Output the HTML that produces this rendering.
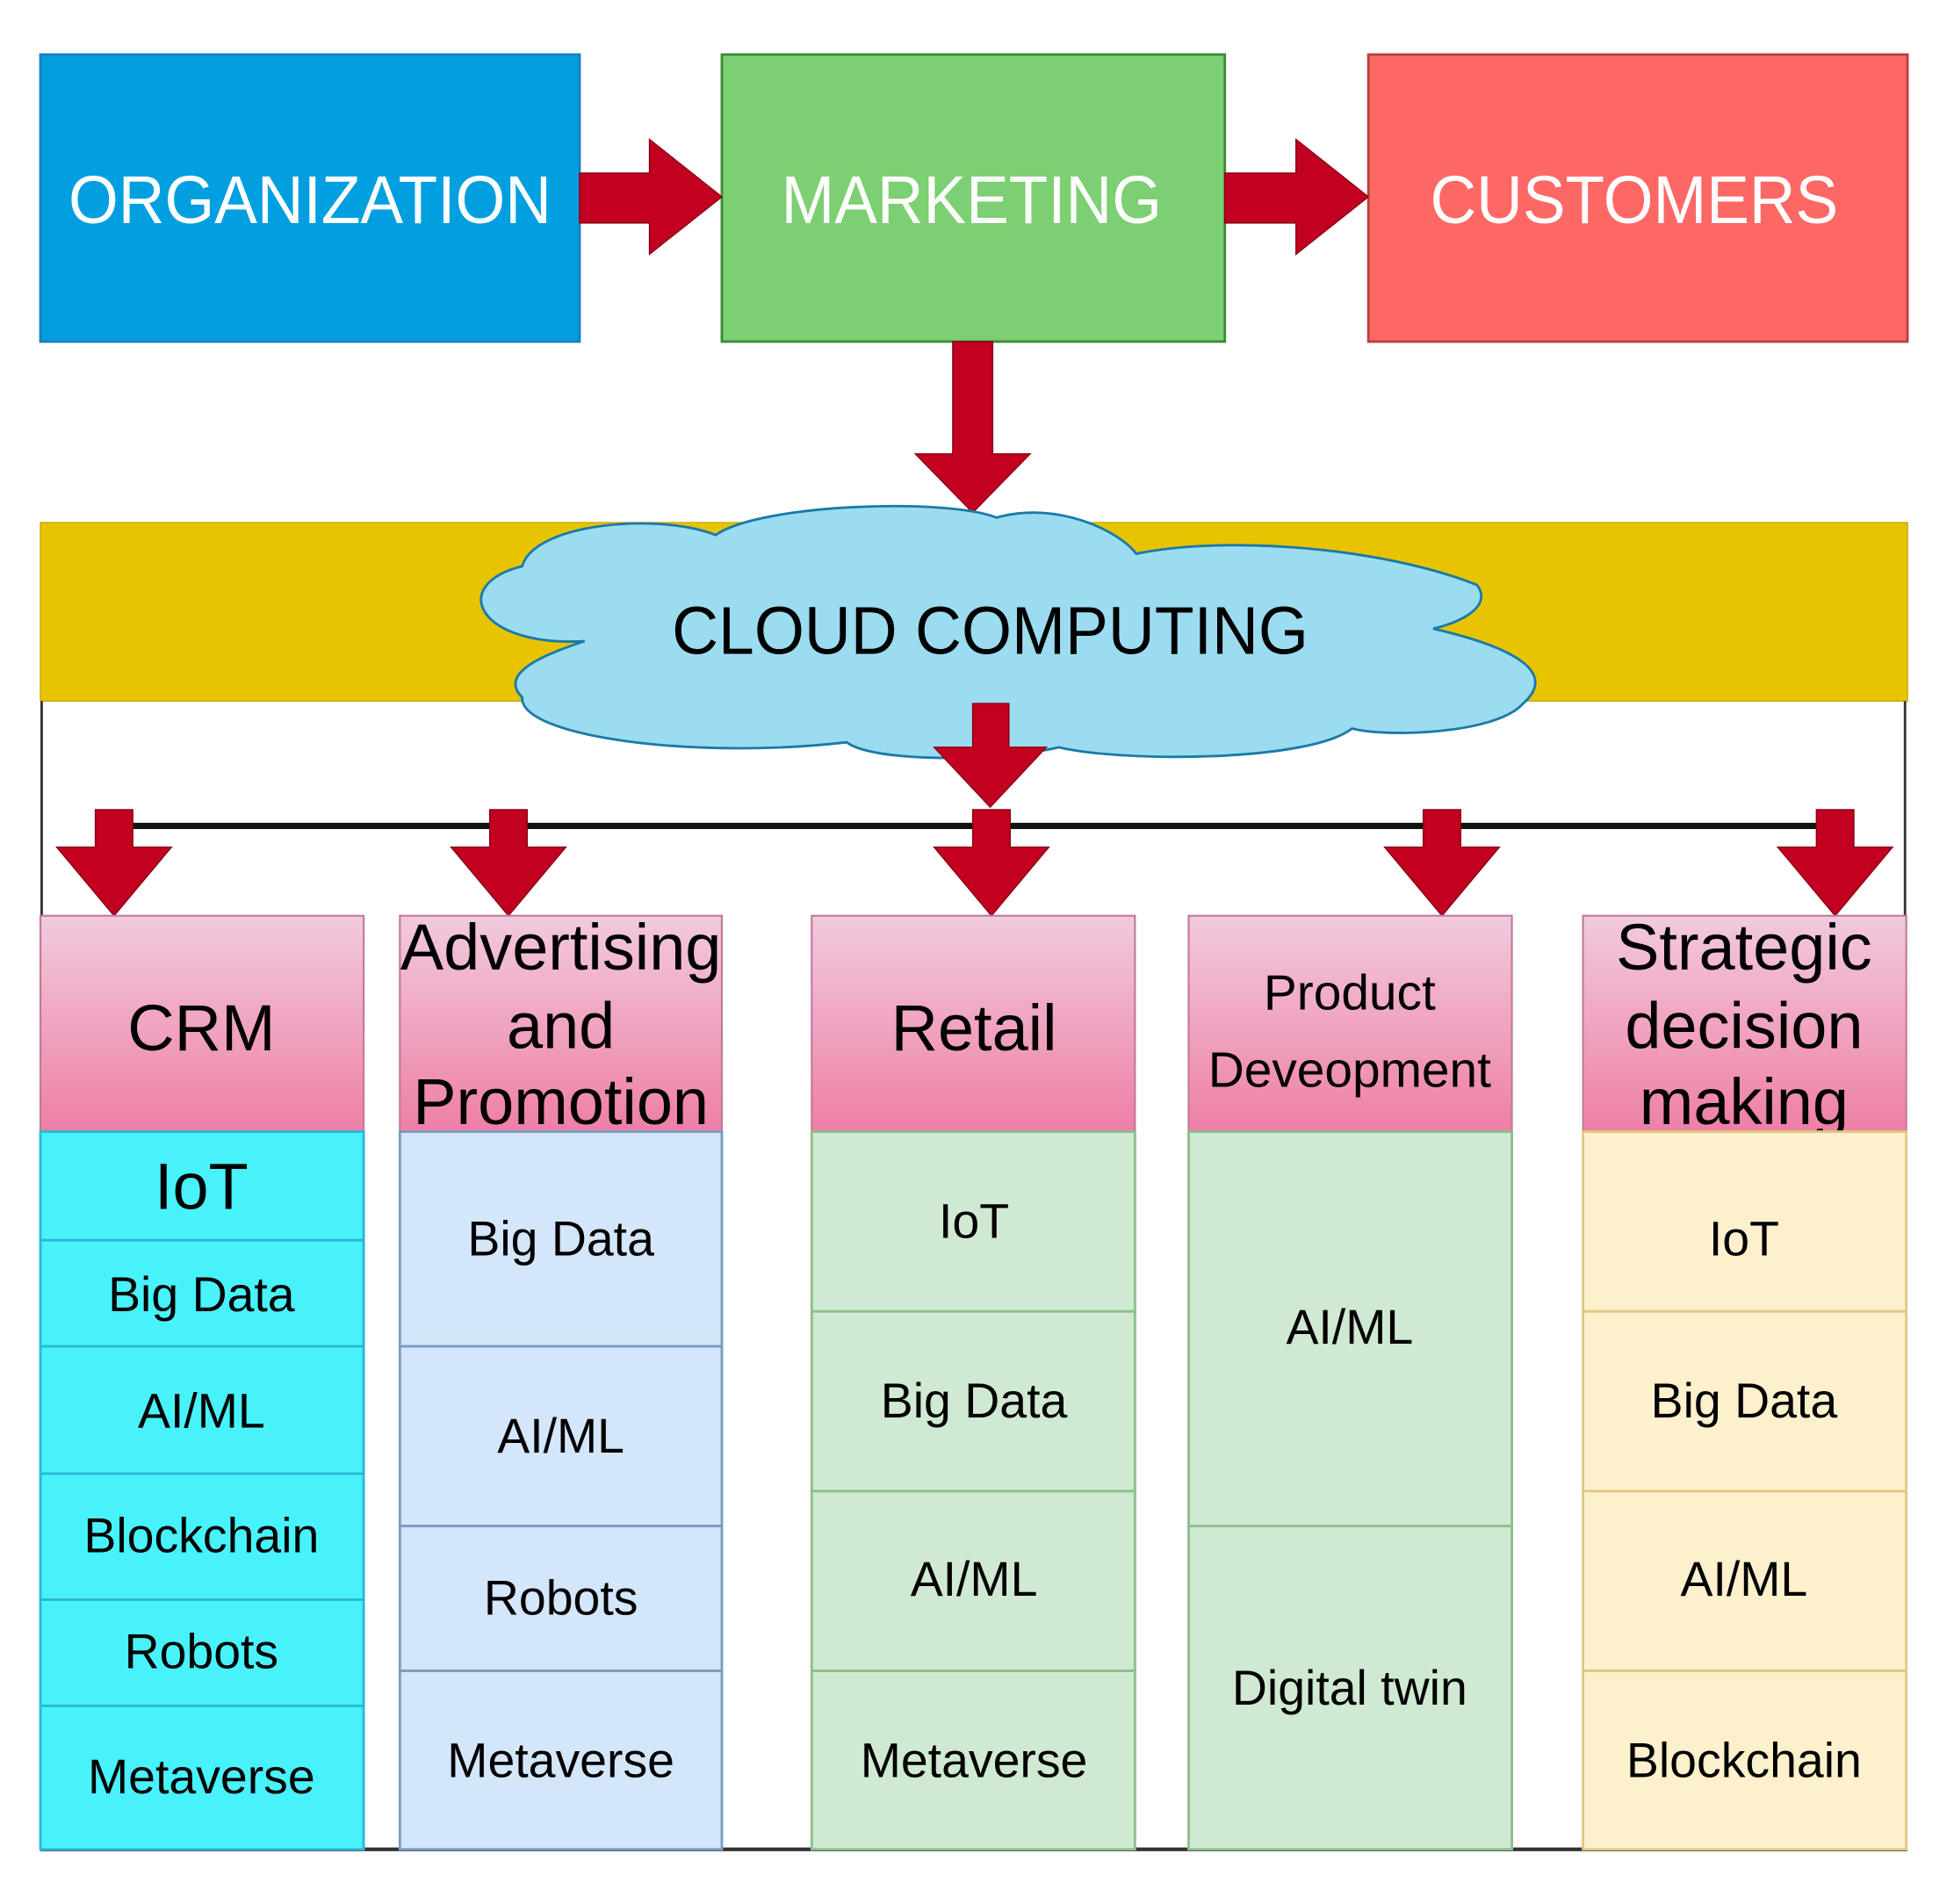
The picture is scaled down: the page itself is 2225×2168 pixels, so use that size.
<!DOCTYPE html>
<html><head><meta charset="utf-8"><style>
html,body{margin:0;padding:0;background:#fff;}
svg{display:block;}
text{font-family:"Liberation Sans",Arial,sans-serif;}
</style></head><body>
<svg width="2225" height="2168" viewBox="0 0 1560 1520" preserveAspectRatio="none" xmlns="http://www.w3.org/2000/svg">
<defs>
<linearGradient id="pk" x1="0" y1="0" x2="0" y2="1">
<stop offset="0" stop-color="#f2cadd"/><stop offset="1" stop-color="#ee7fa6"/>
</linearGradient>
</defs>
<rect width="1560" height="1520" fill="#fff"/>
<g transform="translate(-1.6,-1.3) scale(0.9964)">
<!-- top boxes -->
<rect x="34" y="45" width="432" height="230" fill="#019fe0" stroke="#1a80c0" stroke-width="2"/>
<rect x="580" y="45" width="403" height="230" fill="#7ccf72" stroke="#3d8a35" stroke-width="2"/>
<rect x="1098" y="45" width="432" height="230" fill="#fd6865" stroke="#b84040" stroke-width="2"/>
<text x="250" y="180" font-size="54" fill="#fff" text-anchor="middle" textLength="387" lengthAdjust="spacingAndGlyphs">ORGANIZATION</text>
<text x="780" y="180" font-size="54" fill="#fff" text-anchor="middle" textLength="305" lengthAdjust="spacingAndGlyphs">MARKETING</text>
<text x="1311" y="180" font-size="54" fill="#fff" text-anchor="middle" textLength="327" lengthAdjust="spacingAndGlyphs">CUSTOMERS</text>
<!-- horizontal arrows -->
<g fill="#c2001f" stroke="#8a0016" stroke-width="1">
<polygon points="466,140 522,140 522,113 580,159 522,205 522,180 466,180"/>
<polygon points="983,140 1040,140 1040,113 1098,159 1040,205 1040,180 983,180"/>
<polygon points="765,275 797,275 797,365 827,365 781,412 735,365 765,365"/>
</g>
<!-- yellow band & frame -->
<rect x="34" y="420" width="1496" height="143" fill="#e8c400" stroke="#c9a800" stroke-width="1"/>
<line x1="35" y1="563" x2="35" y2="735" stroke="#333" stroke-width="2"/>
<line x1="1528" y1="563" x2="1528" y2="735" stroke="#333" stroke-width="2"/>
<line x1="34" y1="1483" x2="1530" y2="1483" stroke="#333" stroke-width="3"/>
<!-- cloud -->
<path d="M470,515 C385,520 360,470 420,455 C430,420 530,412 575,430 C610,405 760,400 800,416 C850,402 900,428 912,445 C985,430 1110,440 1185,470 C1198,487 1172,500 1150,505 C1215,520 1250,540 1222,565 C1200,590 1110,592 1085,585 C1050,612 900,612 850,600 C800,612 700,612 680,596 C560,610 418,592 420,560 C400,540 440,525 470,515 Z" fill="#9cdcf0" stroke="#1a7aa8" stroke-width="2"/>
<text x="795" y="525" font-size="54" fill="#000" text-anchor="middle" textLength="510" lengthAdjust="spacingAndGlyphs">CLOUD COMPUTING</text>
<!-- horizontal connector -->
<line x1="95" y1="663" x2="1470" y2="663" stroke="#111" stroke-width="5"/>
<g fill="#c2001f" stroke="#8a0016" stroke-width="1">
<polygon points="781,565 810,565 810,600 840,600 795,648 750,600 781,600"/>
<polygon points="78,650 108,650 108,680 139,680 93,735 47,680 78,680"/>
<polygon points="394,650 424,650 424,680 455,680 409,735 363,680 394,680"/>
<polygon points="781,650 811,650 811,680 842,680 796,735 750,680 781,680"/>
<polygon points="1142,650 1172,650 1172,680 1203,680 1157,735 1111,680 1142,680"/>
<polygon points="1457,650 1487,650 1487,680 1518,680 1472,735 1426,680 1457,680"/>
</g>
<!-- headers -->
<g stroke="#c07a9a" stroke-width="1.5" fill="url(#pk)">
<rect x="34" y="735" width="259" height="173"/>
<rect x="322" y="735" width="258" height="173"/>
<rect x="652" y="735" width="259" height="173"/>
<rect x="954" y="735" width="259" height="173"/>
<rect x="1270" y="735" width="259" height="173"/>
</g>
<g font-size="52" fill="#000" text-anchor="middle">
<text x="163" y="843">CRM</text>
<text x="451" y="778">Advertising</text>
<text x="451" y="841">and</text>
<text x="451" y="902">Promotion</text>
<text x="782" y="843">Retail</text>
<text x="1399" y="778">Strategic</text>
<text x="1399" y="841">decision</text>
<text x="1399" y="902">making</text>
</g>
<g font-size="40" fill="#000" text-anchor="middle">
<text x="1083" y="810">Product</text>
<text x="1083" y="872">Deveopment</text>
</g>
<!-- CRM body -->
<g fill="#48f2fb" stroke="#2bb8d8" stroke-width="2">
<rect x="34" y="908" width="259" height="87"/>
<rect x="34" y="995" width="259" height="85"/>
<rect x="34" y="1080" width="259" height="102"/>
<rect x="34" y="1182" width="259" height="101"/>
<rect x="34" y="1283" width="259" height="85"/>
<rect x="34" y="1368" width="259" height="115"/>
</g>
<!-- Adv body -->
<g fill="#d4e6f9" stroke="#7a9cc0" stroke-width="2">
<rect x="322" y="908" width="258" height="172"/>
<rect x="322" y="1080" width="258" height="144"/>
<rect x="322" y="1224" width="258" height="116"/>
<rect x="322" y="1340" width="258" height="143"/>
</g>
<!-- Retail body -->
<g fill="#d0e9d3" stroke="#8cbf8c" stroke-width="2">
<rect x="652" y="908" width="259" height="144"/>
<rect x="652" y="1052" width="259" height="144"/>
<rect x="652" y="1196" width="259" height="144"/>
<rect x="652" y="1340" width="259" height="143"/>
<rect x="954" y="908" width="259" height="316"/>
<rect x="954" y="1224" width="259" height="259"/>
</g>
<!-- Strategic body -->
<g fill="#fdf0cc" stroke="#e0c880" stroke-width="2">
<rect x="1270" y="908" width="259" height="144"/>
<rect x="1270" y="1052" width="259" height="144"/>
<rect x="1270" y="1196" width="259" height="144"/>
<rect x="1270" y="1340" width="259" height="143"/>
</g>
<text x="163" y="970" font-size="52" fill="#000" text-anchor="middle">IoT</text>
<g font-size="39" fill="#000" text-anchor="middle">
<text x="163" y="1052">Big Data</text>
<text x="163" y="1145">AI/ML</text>
<text x="163" y="1245">Blockchain</text>
<text x="163" y="1338">Robots</text>
<text x="163" y="1438">Metaverse</text>
<text x="451" y="1007">Big Data</text>
<text x="451" y="1165">AI/ML</text>
<text x="451" y="1295">Robots</text>
<text x="451" y="1425">Metaverse</text>
<text x="782" y="993">IoT</text>
<text x="782" y="1137">Big Data</text>
<text x="782" y="1280">AI/ML</text>
<text x="782" y="1425">Metaverse</text>
<text x="1083" y="1078">AI/ML</text>
<text x="1083" y="1367">Digital twin</text>
<text x="1399" y="1007">IoT</text>
<text x="1399" y="1137">Big Data</text>
<text x="1399" y="1280">AI/ML</text>
<text x="1399" y="1425">Blockchain</text>
</g>
</g>
</svg>
</body></html>
